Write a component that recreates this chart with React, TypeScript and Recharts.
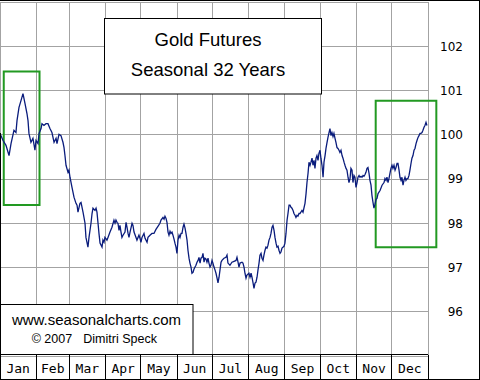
import React from 'react';
import { LineChart, Line, XAxis, YAxis, CartesianGrid, ReferenceArea } from 'recharts';

// Month labels and month-start day-of-year boundaries (last entry = year end)
const monthLabels = ['Jan', 'Feb', 'Mar', 'Apr', 'May', 'Jun', 'Jul', 'Aug', 'Sep', 'Oct', 'Nov', 'Dec'];
const monthStartDays = [0, 31, 59, 90, 120, 151, 181, 212, 243, 273, 304, 334, 365];
const priceTicks = [96, 97, 98, 99, 100, 101, 102];

// Seasonal index readings: [day of year, index value]
const janFebPoints: [number, number][] = [
  [0, 100.03], [2.6, 99.87], [5.1, 99.76], [7.7, 99.53], [9.4, 99.8], [11.9, 100.1], [13.6, 100.05], [14.5, 100.32],
  [16.2, 100.62], [17.9, 100.77], [19.6, 100.93], [21.3, 100.71], [23.0, 100.48], [23.9, 100.32], [24.7, 100.03],
  [26.4, 99.83], [28.1, 99.92], [29.8, 99.65], [30.7, 99.87], [32.4, 99.8], [33.3, 100.03], [35.0, 100.14],
  [35.8, 100.25], [37.5, 100.21], [39.2, 100.25], [40.9, 100.25], [42.6, 100.14], [44.3, 100.05], [46.1, 99.83],
  [47.8, 99.92], [48.6, 99.8], [50.3, 100.01], [52.0, 99.98], [53.7, 99.83], [54.6, 99.71], [55.4, 99.53],
  [56.3, 99.31], [58.0, 99.15], [58.8, 99.2],
];
const marAprPoints: [number, number][] = [
  [59.7, 99.04], [61.4, 98.81], [63.1, 98.59], [64.8, 98.45], [65.7, 98.41], [66.5, 98.25], [68.2, 98.45],
  [69.1, 98.47], [70.8, 98.25], [72.5, 98.0], [73.3, 97.68], [75.0, 97.46], [75.9, 97.68], [77.6, 98.0], [78.5, 98.22],
  [79.3, 98.34], [81.0, 98.29], [81.9, 98.34], [82.7, 98.25], [83.6, 98.0], [84.4, 97.77], [85.3, 97.55], [87.0, 97.46],
  [87.8, 97.62], [88.7, 97.57], [89.5, 97.68], [91.2, 97.62], [92.1, 97.68], [93.8, 97.8], [95.5, 97.91], [97.2, 98.07],
  [98.1, 98.0], [98.9, 98.07], [99.8, 98.02], [100.6, 98.0], [101.5, 97.84], [102.3, 97.95], [103.2, 97.8],
  [104.0, 97.68], [104.9, 97.73], [106.6, 97.8], [107.5, 98.02], [108.3, 97.91], [109.2, 97.77], [110.0, 97.68],
  [110.9, 97.8], [112.6, 98.0], [113.4, 97.95], [114.3, 97.8], [116.0, 97.68], [116.8, 97.62], [118.5, 97.73],
];
const mayJunPoints: [number, number][] = [
  [119.4, 97.66], [120.2, 97.57], [121.1, 97.68], [122.8, 97.77], [123.7, 97.66], [125.4, 97.57], [126.2, 97.68],
  [127.9, 97.73], [129.6, 97.77], [131.3, 97.77], [133.0, 97.86], [134.7, 97.93], [136.4, 98.0], [137.3, 98.07],
  [139.0, 98.13], [139.9, 98.09], [140.7, 98.16], [141.6, 98.11], [142.4, 98.02], [143.3, 97.8], [144.1, 97.73],
  [145.0, 97.82], [145.8, 97.77], [146.7, 97.8], [147.5, 97.73], [148.4, 97.64], [149.2, 97.55], [150.1, 97.46],
  [150.9, 97.32], [151.8, 97.62], [152.7, 97.73], [153.5, 97.68], [154.4, 97.77], [155.2, 97.77], [156.1, 97.91],
  [156.9, 97.98], [157.8, 97.89], [158.6, 97.77], [159.5, 97.62], [160.3, 97.39], [161.2, 97.21], [162.0, 97.1],
  [162.9, 97.01], [163.7, 96.87], [164.6, 96.89], [165.4, 96.96], [166.3, 97.01], [167.1, 97.05], [168.0, 97.12],
  [168.9, 97.16], [169.7, 97.23], [170.6, 97.1], [171.4, 97.21], [172.3, 97.23], [173.1, 97.32], [174.0, 97.12],
  [174.8, 97.21], [175.7, 97.19], [176.5, 97.12], [177.4, 97.21], [178.2, 97.1], [179.1, 97.01], [179.9, 97.05],
];
const julAugPoints: [number, number][] = [
  [180.8, 97.16], [181.6, 97.1], [182.5, 97.01], [183.4, 96.94], [184.2, 96.87], [185.1, 96.76], [185.9, 96.65],
  [186.8, 96.78], [187.6, 96.94], [188.5, 97.12], [189.3, 97.16], [191.0, 97.21], [192.7, 97.23], [193.6, 97.28],
  [194.4, 97.1], [196.1, 97.05], [197.8, 97.12], [199.6, 97.14], [201.3, 97.16], [202.1, 97.23], [203.0, 97.12],
  [203.8, 97.01], [204.7, 97.1], [206.4, 97.12], [207.2, 97.1], [208.1, 97.01], [208.9, 96.87], [209.8, 96.76],
  [210.6, 96.83], [212.3, 96.87], [213.2, 96.78], [214.1, 96.87], [214.9, 96.78], [215.8, 96.65], [216.6, 96.53],
  [217.5, 96.65], [218.3, 96.67], [219.2, 96.78], [220.0, 96.94], [220.9, 97.1], [221.7, 97.28], [222.6, 97.32],
  [223.4, 97.21], [224.3, 97.16], [225.1, 97.28], [226.0, 97.39], [226.8, 97.46], [227.7, 97.44], [228.5, 97.5],
  [229.4, 97.62], [230.3, 97.68], [231.1, 97.77], [232.0, 97.91], [232.8, 97.95], [233.7, 97.84], [234.5, 97.68],
  [235.4, 97.55], [236.2, 97.46], [237.1, 97.48], [237.9, 97.39], [238.8, 97.32], [239.6, 97.35], [240.5, 97.44],
  [241.3, 97.46], [242.2, 97.48],
];
const sepOctPoints: [number, number][] = [
  [243.0, 97.55], [243.9, 97.77], [244.8, 98.07], [245.6, 98.22], [246.5, 98.41], [247.3, 98.41], [248.2, 98.36],
  [249.0, 98.34], [249.9, 98.29], [250.7, 98.22], [251.6, 98.18], [252.4, 98.13], [253.3, 98.18], [254.1, 98.16],
  [255.0, 98.22], [255.8, 98.22], [257.5, 98.29], [258.4, 98.25], [260.1, 98.45], [261.0, 98.67], [261.8, 98.92],
  [262.7, 99.13], [263.5, 99.38], [264.4, 99.31], [265.2, 99.38], [266.1, 99.47], [266.9, 99.31], [267.8, 99.42],
  [268.6, 99.24], [269.5, 99.47], [270.3, 99.53], [271.2, 99.42], [272.0, 99.58], [272.9, 99.65], [273.7, 99.47],
  [274.6, 99.31], [275.5, 99.04], [276.3, 99.38], [277.2, 99.53], [278.0, 99.69], [278.9, 99.83], [279.7, 99.94],
  [280.6, 100.05], [281.4, 100.14], [282.3, 99.98], [283.1, 100.05], [284.0, 99.96], [284.8, 100.03], [285.7, 99.92],
  [286.5, 99.83], [287.4, 99.71], [288.2, 99.69], [289.1, 99.65], [289.9, 99.6], [290.8, 99.65], [291.7, 99.53],
  [292.5, 99.47], [293.4, 99.38], [294.2, 99.31], [295.1, 99.24], [295.9, 99.2], [296.8, 99.04], [297.6, 98.92],
  [298.5, 99.01], [299.3, 99.24], [300.2, 99.2], [301.0, 98.92], [301.9, 99.08], [302.7, 99.04], [303.6, 98.81],
];
const novDecPoints: [number, number][] = [
  [304.5, 98.92], [305.3, 99.04], [306.2, 99.08], [307.0, 99.04], [307.9, 99.06], [308.7, 99.04], [309.6, 99.08],
  [310.4, 99.06], [311.3, 99.1], [312.1, 99.15], [313.0, 99.24], [313.8, 99.26], [314.7, 99.13], [315.5, 98.97],
  [316.4, 98.86], [317.2, 98.63], [318.1, 98.47], [318.9, 98.34], [319.8, 98.43], [320.7, 98.54], [321.5, 98.56],
  [322.4, 98.67], [324.1, 98.74], [325.8, 98.86], [327.5, 98.92], [328.3, 99.01], [329.2, 98.97], [330.0, 99.04],
  [330.9, 98.92], [331.7, 99.01], [332.6, 99.13], [333.4, 99.24], [334.3, 99.31], [335.1, 99.24], [336.0, 99.31],
  [336.9, 99.2], [337.7, 99.26], [338.6, 99.35], [339.4, 99.35], [340.3, 99.2], [341.1, 99.04], [342.0, 98.97],
  [342.8, 99.04], [343.7, 98.86], [344.5, 98.97], [345.4, 99.04], [346.2, 98.97], [347.1, 99.01], [347.9, 99.01],
  [348.8, 99.08], [349.6, 99.2], [350.5, 99.35], [351.3, 99.47], [352.2, 99.53], [353.1, 99.65], [353.9, 99.69],
  [354.8, 99.8], [355.6, 99.87], [356.5, 99.94], [357.3, 99.98], [358.2, 100.03], [359.0, 100.03], [359.9, 100.05],
  [360.7, 100.1], [361.6, 100.17], [362.4, 100.21], [363.3, 100.28], [364.1, 100.21],
];

// Highlighted seasonal windows (day range, index range)
const windowStartDays = [3.2, 320.4];
const windowEndDays = [33.7, 372.1];
const windowLows = [98.41, 97.46];
const windowHighs = [101.43, 100.77];

const data = [...janFebPoints, ...marAprPoints, ...mayJunPoints, ...julAugPoints, ...sepOctPoints, ...novDecPoints].map(
  ([day, value]) => ({ day, value })
);

const PLOT_W = 428;
const PX_PER_DAY = PLOT_W / 365;

const MonthTick = (props: any) => {
  const { x, payload } = props;
  const i = monthStartDays.indexOf(payload.value);
  const next = monthStartDays[i + 1];
  const half = next !== undefined ? ((next - payload.value) * PX_PER_DAY) / 2 : 0;
  return (
    <g>
      <line x1={x} x2={x} y1={354.5} y2={380} stroke="#000" strokeWidth={1} shapeRendering="crispEdges" />
      {i >= 0 && i < 12 && (
        <text x={x + half} y={372.5} textAnchor="middle" fontFamily="'DejaVu Sans Mono', monospace" fontSize={13} fill="#000">
          {monthLabels[i]}
        </text>
      )}
    </g>
  );
};

const PriceTick = (props: any) => {
  const { y, payload } = props;
  return (
    <text x={463} y={y + 4.4} textAnchor="end" fontFamily="'DejaVu Sans', sans-serif" fontSize={12} fill="#000">
      {payload.value}
    </text>
  );
};

export default function App() {
  return (
    <div style={{ position: 'absolute', left: 0, top: 0, width: 480, height: 380, background: '#fff' }}>
      <style>{`.recharts-cartesian-grid line { shape-rendering: crispEdges; }`}</style>
      <LineChart width={480} height={380} data={data} margin={{ top: 2, right: 0, bottom: 0, left: 0 }}>
        <CartesianGrid stroke="#a3a3a3" strokeWidth={1} />
        <XAxis
          dataKey="day"
          type="number"
          domain={[0, 365]}
          ticks={monthStartDays}
          interval={0}
          height={24}
          axisLine={false}
          tickLine={false}
          tick={(p: any) => <MonthTick {...p} />}
        />
        <YAxis
          orientation="right"
          type="number"
          domain={[95, 103]}
          ticks={priceTicks}
          interval={0}
          width={52}
          axisLine={false}
          tickLine={false}
          tick={(p: any) => <PriceTick {...p} />}
        />
        <Line dataKey="value" type="linear" stroke="#0a1c7c" strokeWidth={1.3} dot={false} isAnimationActive={false} />
        {windowStartDays.map((s, i) => (
          <ReferenceArea
            key={i}
            x1={s}
            x2={windowEndDays[i]}
            y1={windowLows[i]}
            y2={windowHighs[i]}
            fill="none"
            fillOpacity={0}
            stroke="#229922"
            strokeWidth={2}
            strokeOpacity={1}
            ifOverflow="visible"
          />
        ))}
      </LineChart>
      <svg width={480} height={380} style={{ position: 'absolute', left: 0, top: 0, pointerEvents: 'none' }}>
        {/* frame */}
        <line x1={0} x2={480} y1={0.5} y2={0.5} stroke="#000" />
        <line x1={479.5} x2={479.5} y1={0} y2={380} stroke="#000" />
        <line x1={0} x2={480} y1={379.5} y2={379.5} stroke="#000" />
        <line x1={0.5} x2={0.5} y1={133} y2={380} stroke="#000" />
        <line x1={0} x2={428} y1={354.5} y2={354.5} stroke="#000" />
        {/* title box */}
        <rect x={104.5} y={18.5} width={217} height={75.5} fill="#fff" stroke="#000" />
        <text x={208} y={45.5} textAnchor="middle" fontFamily="'Liberation Sans', Arial, sans-serif" fontSize={18.5} fill="#000">
          Gold Futures
        </text>
        <text x={208} y={76} textAnchor="middle" fontFamily="'Liberation Sans', Arial, sans-serif" fontSize={18.5} fill="#000">
          Seasonal 32 Years
        </text>
        {/* watermark box */}
        <rect x={0.5} y={304.5} width={192.5} height={50} fill="#fff" stroke="#000" />
        <text x={96.5} y={325.3} textAnchor="middle" fontFamily="'Liberation Sans', Arial, sans-serif" fontSize={15} fill="#000">
          www.seasonalcharts.com
        </text>
        <text x={31.7} y={342.7} fontFamily="'Liberation Sans', Arial, sans-serif" fontSize={12.5} fill="#000">
          © 2007
        </text>
        <text x={83.3} y={342.7} fontFamily="'Liberation Sans', Arial, sans-serif" fontSize={12.5} fill="#000">
          Dimitri Speck
        </text>
      </svg>
    </div>
  );
}
